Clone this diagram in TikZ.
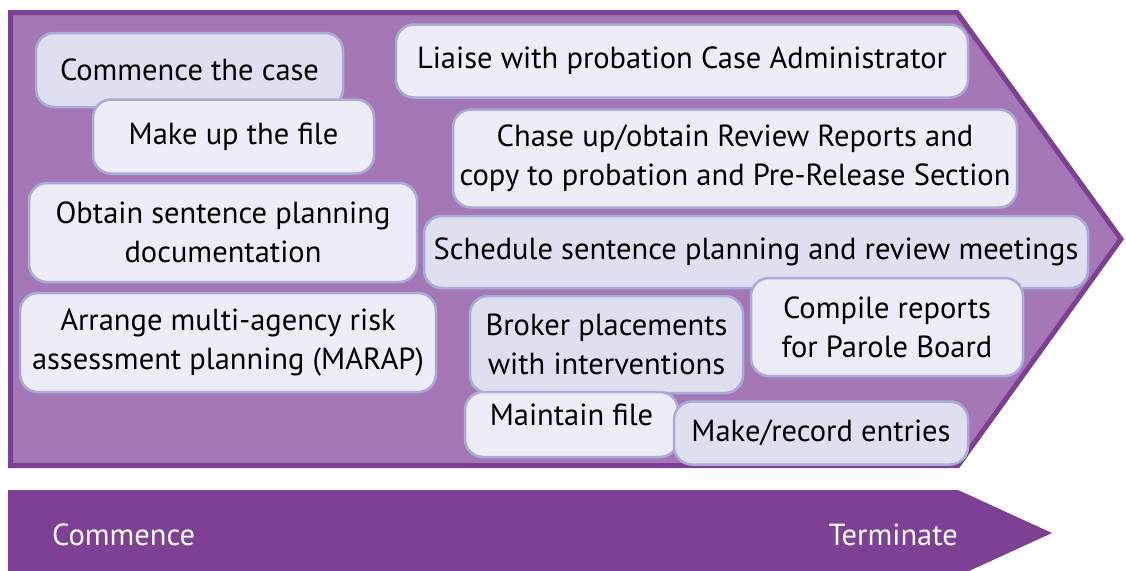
\documentclass[tikz,border=0pt]{standalone}
\usepackage{fontspec}
\setmainfont{PT Sans}
\usetikzlibrary{calc}
\definecolor{darkplum}{RGB}{126,64,148}
\definecolor{lightplum}{RGB}{164,120,182}
\definecolor{taskline}{RGB}{168,172,215}
\definecolor{taskdark}{RGB}{222,223,239}
\definecolor{tasklight}{RGB}{236,237,246}
\tikzset{
  task/.style={draw=taskline, line width=2.5pt, rounded corners=18pt, fill=tasklight,
    align=center, inner sep=0pt, font=\fontsize{30.5}{39}\selectfont},
  taskd/.style={task, fill=taskdark},
  stage/.style={text=white, font=\fontsize{30.5}{39}\selectfont, inner sep=0pt}
}

\begin{document}
\begin{tikzpicture}[x=1pt, y=-1pt]
		%%%%% START %%%%%
		\useasboundingbox (0,0) rectangle (1126,570);
		
		% big chevron with the tasks
		\draw[line width=5pt, draw=darkplum, fill=lightplum, line join=miter]
			(10.5,12.5) -- (957,12.5) -- (1121,239) -- (958,465.5) -- (10.5,465.5) -- cycle;
		
		% left column
		\node[taskd, minimum width=307, minimum height=74] (commence) at (189.5,70) {Commence the case};
		\node[task, minimum width=281, minimum height=74] (makeup) at (233.5,136.5) {Make up the file};
		\node[task, minimum width=388, minimum height=99] (obtain) at (223,232.5) {Obtain sentence planning\\documentation};
		\node[task, minimum width=416, minimum height=99] (marap) at (228,342.5) {Arrange multi-agency risk\\assessment planning (MARAP)};
		
		% right column
		\node[task, minimum width=572, minimum height=73] (liaise) at (682,61) {Liaise with probation Case Administrator};
		\node[task, minimum width=564, minimum height=98] (chase) at (735,158.5) {Chase up/obtain Review Reports and\\copy to probation and Pre-Release Section};
		\node[taskd, minimum width=664, minimum height=72] (schedule) at (756,252) {Schedule sentence planning and review meetings};
		\node[taskd, minimum width=273, minimum height=97] (broker) at (606.5,344.5) {Broker placements\\with interventions};
		\node[task, minimum width=272, minimum height=98] (parole) at (887,327) {Compile reports\\for Parole Board};
		\node[task, minimum width=213, minimum height=65] (maintain) at (571.5,424.5) {};
		\node[inner sep=0pt, font=\fontsize{30.5}{39}\selectfont] (maintaintxt) at (571.5,415) {Maintain file};
		\node[taskd, minimum width=294, minimum height=63] (entries) at (821,433) {Make/record entries};
		
		% timeline arrow
		\fill[darkplum] (8,490) -- (958,490) -- (1052,533) -- (958,576) -- (8,576) -- cycle;
		\node[stage, anchor=west] (start) at (52,535) {Commence};
		\node[stage, anchor=east] (finish) at (958,535) {Terminate};
		
		%%%%% END %%%%%
	\end{tikzpicture}
\end{document}
